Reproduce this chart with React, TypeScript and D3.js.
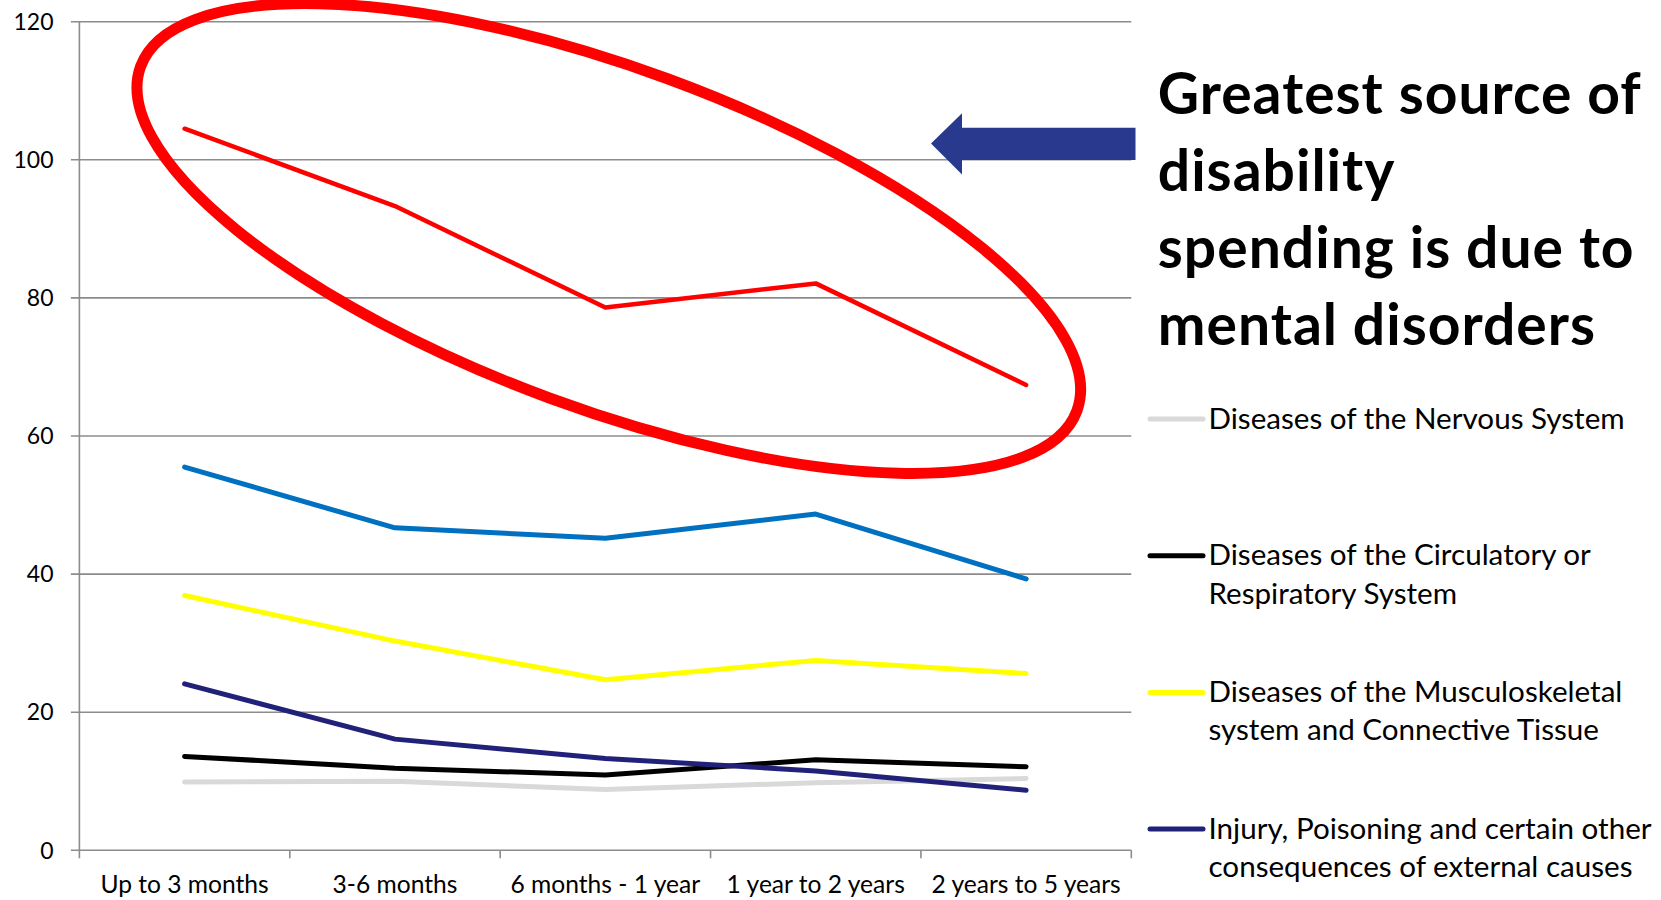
import React, { useEffect } from "react";
import * as d3 from "d3";

// Duration buckets on the x axis
const categories = [
  "Up to 3 months",
  "3-6 months",
  "6 months - 1 year",
  "1 year to 2 years",
  "2 years to 5 years",
];

// Spending per diagnosis group, one value per duration bucket
const mentalValues = [104.5, 93.3, 78.6, 82.1, 67.4];
const secondValues = [55.5, 46.7, 45.2, 48.7, 39.3];
const musculoskeletalValues = [36.9, 30.3, 24.7, 27.5, 25.6];
const injuryValues = [24.1, 16.1, 13.3, 11.5, 8.7];
const circulatoryValues = [13.6, 11.9, 10.9, 13.1, 12.1];
const nervousValues = [9.9, 10.0, 8.8, 9.8, 10.4];

const yTicks = [0, 20, 40, 60, 80, 100, 120];

const legendLabels = [
  ["Diseases of the Nervous System"],
  ["Diseases of the Circulatory or", "Respiratory System"],
  ["Diseases of the Musculoskeletal", "system and Connective Tissue"],
  ["Injury, Poisoning and certain other", "consequences of external causes"],
];

const calloutLines = [
  "Greatest source of",
  "disability",
  "spending is due to",
  "mental disorders",
];

type Series = { name: string; values: number[]; color: string; width: number; legend: number };

// Draw order: lowest series first so the highlighted one sits on top
const series: Series[] = [
  { name: "nervous", values: nervousValues, color: "#D9D9D9", width: 5, legend: 0 },
  { name: "circulatory", values: circulatoryValues, color: "#000000", width: 5, legend: 1 },
  { name: "musculoskeletal", values: musculoskeletalValues, color: "#FFFF00", width: 5, legend: 2 },
  { name: "injury", values: injuryValues, color: "#21217A", width: 5, legend: 3 },
  { name: "second", values: secondValues, color: "#0070C0", width: 5, legend: -1 },
  { name: "mental", values: mentalValues, color: "#FF0000", width: 4.5, legend: -1 },
];

const W = 1661;
const H = 900;
const FONT = "Lato, 'Open Sans', sans-serif";
const GRID = "#8C8C8C";

export default function App() {
  useEffect(() => {
    document.body.style.margin = "0";
  }, []);

  const plotLeft = 79.4;
  const plotRight = 1131.3;
  const plotTop = 21.7;
  const plotBottom = 850.3;

  const x = d3.scaleBand<string>().domain(categories).range([plotLeft, plotRight]).padding(0);
  const y = d3.scaleLinear().domain([0, 120]).range([plotBottom, plotTop]);
  const cx = (c: string) => (x(c) as number) + x.bandwidth() / 2;

  const line = d3
    .line<number>()
    .x((_, i) => cx(categories[i]))
    .y((v) => y(v));

  const bandEdges = [...categories.map((c) => x(c) as number), plotRight];

  // Callout ellipse around the top series
  const ring = { cx: 608.8, cy: 238.5, rx: 498.8, ry: 170.2, angle: 20.2 };

  // Left-pointing block arrow next to the callout text
  const arrowPath = d3.path();
  arrowPath.moveTo(931, 143.5);
  arrowPath.lineTo(962, 113.3);
  arrowPath.lineTo(962, 127.7);
  arrowPath.lineTo(1135.5, 127.7);
  arrowPath.lineTo(1135.5, 160);
  arrowPath.lineTo(962, 160);
  arrowPath.lineTo(962, 174.5);
  arrowPath.closePath();

  const legendX = 1150;
  const legendTop = 419;
  const legendStep = 136.7;

  return (
    <svg
      width={W}
      height={H}
      style={{ position: "absolute", left: 0, top: 0, background: "#fff" }}
      fontFamily={FONT}
    >
      <rect width={W} height={H} fill="#fff" />

      {/* horizontal gridlines and y ticks */}
      {yTicks.map((t) => (
        <g key={t}>
          <line x1={plotLeft - 8.5} x2={plotRight} y1={y(t)} y2={y(t)} stroke={GRID} strokeWidth={1.6} />
          <text
            x={53.5}
            y={y(t)}
            dy="0.36em"
            textAnchor="end"
            fontSize={23}
            fill="#000"
          >
            {t}
          </text>
        </g>
      ))}

      {/* y axis line */}
      <line x1={plotLeft} x2={plotLeft} y1={plotTop} y2={plotBottom} stroke={GRID} strokeWidth={1.6} />

      {/* x axis tick marks between buckets */}
      {bandEdges.map((e, i) => (
        <line key={i} x1={e} x2={e} y1={plotBottom} y2={plotBottom + 8} stroke={GRID} strokeWidth={1.6} />
      ))}

      {/* x labels */}
      {categories.map((c) => (
        <text key={c} x={cx(c)} y={892.7} textAnchor="middle" fontSize={24.6} fill="#000">
          {c}
        </text>
      ))}

      {/* series lines */}
      {series.map((s) => (
        <path
          key={s.name}
          d={line(s.values) as string}
          fill="none"
          stroke={s.color}
          strokeWidth={s.width}
          strokeLinecap="round"
          strokeLinejoin="round"
        />
      ))}

      {/* callout ring */}
      <ellipse
        cx={ring.cx}
        cy={ring.cy}
        rx={ring.rx}
        ry={ring.ry}
        transform={`rotate(${ring.angle} ${ring.cx} ${ring.cy})`}
        fill="none"
        stroke="#FF0000"
        strokeWidth={11}
      />

      {/* arrow */}
      <path d={arrowPath.toString()} fill="#293A8E" />

      {/* callout text */}
      {calloutLines.map((l, i) => (
        <text
          key={l}
          x={1157.8}
          y={114 + i * 77}
          fontSize={57}
          fontWeight={700}
          letterSpacing={1}
          fill="#000"
        >
          {l}
        </text>
      ))}

      {/* legend */}
      {series
        .filter((s) => s.legend >= 0)
        .map((s) => {
          const ly = legendTop + s.legend * legendStep;
          return (
            <g key={s.name}>
              <line
                x1={legendX}
                x2={legendX + 53}
                y1={ly}
                y2={ly}
                stroke={s.color}
                strokeWidth={5}
                strokeLinecap="round"
              />
              {legendLabels[s.legend].map((t, j) => (
                <text key={j} x={legendX + 58.5} y={ly + 9.6 + j * 38.4} fontSize={29.6} fill="#000">
                  {t}
                </text>
              ))}
            </g>
          );
        })}
    </svg>
  );
}
